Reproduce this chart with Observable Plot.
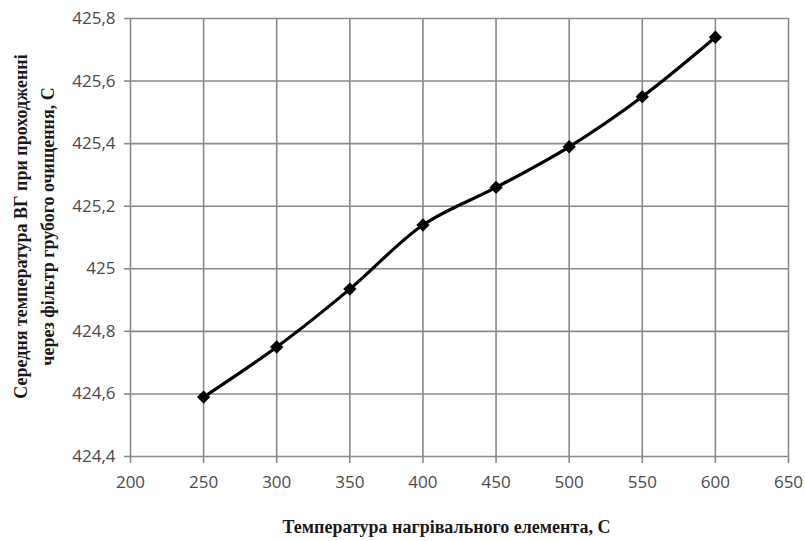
<!DOCTYPE html>
<html>
<head>
<meta charset="utf-8">
<script src="https://cdn.jsdelivr.net/npm/d3@7"></script>
<script src="https://cdn.jsdelivr.net/npm/@observablehq/plot@0.6"></script>
<style>
  html, body { margin: 0; padding: 0; background: #fff; }
  #chart { width: 805px; height: 541px; }
</style>
</head>
<body>
<div id="chart"></div>
<script>
const heaterTemp = [250, 300, 350, 400, 450, 500, 550, 600];
const gasTemp = [424.59, 424.75, 424.935, 425.14, 425.26, 425.39, 425.55, 425.74];
const xTicks = [200, 250, 300, 350, 400, 450, 500, 550, 600, 650];
const yTicks = [424.4, 424.6, 424.8, 425, 425.2, 425.4, 425.6, 425.8];
const xTitle = "Температура нагрівального елемента, С";
const yTitle = "Середня температура ВГ при проходженні\nчерез фільтр грубого очищення, С";

const data = heaterTemp.map((x, i) => ({x, y: gasTemp[i]}));
const fmt = d => String(d).replace(".", ",");

const chart = Plot.plot({
  width: 805,
  height: 541,
  marginLeft: 130,
  marginRight: 17,
  marginTop: 18,
  marginBottom: 85,
  style: {fontFamily: "'Open Sans', sans-serif", background: "#fff"},
  x: {domain: [200, 650]},
  y: {domain: [424.4, 425.8]},
  marks: [
    Plot.gridX(xTicks, {stroke: "#8a8a8a", strokeOpacity: 1, strokeWidth: 1.6}),
    Plot.gridY(yTicks, {stroke: "#8a8a8a", strokeOpacity: 1, strokeWidth: 1.6}),
    Plot.axisX({ticks: xTicks, tickFormat: fmt, tickSize: 7, tickPadding: 12, stroke: "#8a8a8a", strokeWidth: 1.6, fill: "#4a4a4a", fontSize: 17, label: null}),
    Plot.axisY({ticks: yTicks, tickFormat: fmt, tickSize: 6, tickPadding: 9, stroke: "#8a8a8a", strokeWidth: 1.6, fill: "#4a4a4a", fontSize: 17, label: null}),
    Plot.line(data, {x: "x", y: "y", curve: "catmull-rom", stroke: "#000", strokeWidth: 3.2}),
    Plot.dot(data, {x: "x", y: "y", symbol: "diamond2", r: 6, fill: "#000", stroke: "none"}),
    Plot.text([xTitle], {text: d => d, frameAnchor: "bottom", lineAnchor: "middle", dy: 71, dx: -13, fontFamily: "'Liberation Serif', serif", fontWeight: "bold", fontSize: 18, fill: "#1a1a1a"}),
    Plot.text([yTitle], {text: d => d, frameAnchor: "left", textAnchor: "middle", lineAnchor: "middle", rotate: -90, dx: -98.5, dy: -11, lineHeight: 1.5, fontFamily: "'Liberation Serif', serif", fontWeight: "bold", fontSize: 18, fill: "#1a1a1a"})
  ]
});
document.getElementById("chart").appendChild(chart);
</script>
</body>
</html>
